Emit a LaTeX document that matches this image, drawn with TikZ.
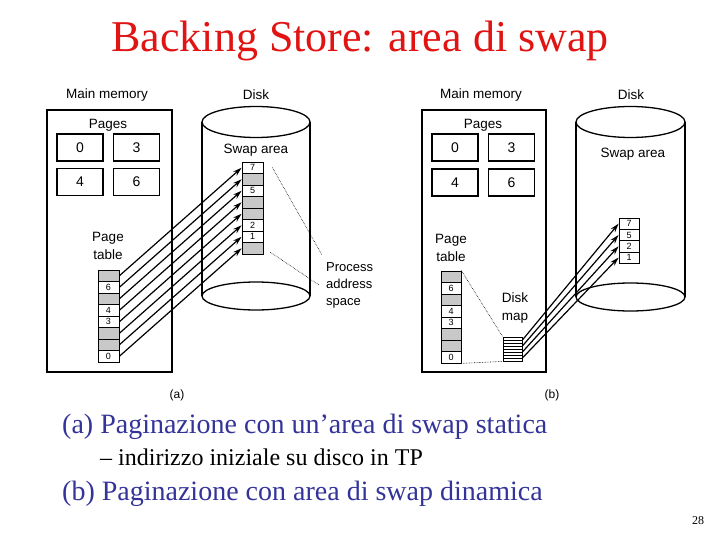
\documentclass[tikz,border=0pt]{standalone}
\usepackage{fontspec}
\setmainfont{Liberation Serif}
\setsansfont{Liberation Sans}
\usepackage{xcolor}
\usepackage{tikz}
\usetikzlibrary{arrows.meta,positioning}

\definecolor{titlered}{RGB}{225,20,20}
\definecolor{slideblue}{RGB}{51,51,153}
\definecolor{cellgray}{RGB}{200,200,200}

\tikzset{
  lbl/.style={font=\sffamily\fontsize{13.5}{16}\selectfont},
  pagebox/.style={draw,line width=1.2pt,minimum width=46pt,minimum height=27pt,inner sep=0pt,font=\sffamily\fontsize{14}{16}\selectfont},
  cell/.style={draw,line width=0.8pt,minimum width=21pt,minimum height=11.5pt,inner sep=0pt,font=\sffamily\fontsize{9}{9}\selectfont},
  emptycell/.style={cell,fill=cellgray},
  maparrow/.style={line width=1.2pt,-{Stealth[length=9pt,width=5.5pt]}},
  frame/.style={line width=1.3pt}
}

\begin{document}
\begin{tikzpicture}[x=1pt,y=-1pt]
\useasboundingbox (0,0) rectangle (720,540);

\node[font=\fontsize{44}{48}\selectfont,text=titlered,anchor=base] (title) at (360,52) {Backing Store: area di swap};

% (a) static swap area
\node[lbl] (mmA) at (107,95) {Main memory};
\draw[frame] (47,110) rectangle (172,372);
\node[lbl] (pagesA) at (108,125) {Pages};
\node[pagebox] (pA0) at (80,147.5) {0};
\node[pagebox] (pA3) at (136.5,147.5) {3};
\node[pagebox] (pA4) at (80,182) {4};
\node[pagebox] (pA6) at (136.5,182) {6};
\node[lbl,align=center] (ptlA) at (108,246) {Page\\[2pt]table};

\node[lbl] (diskA) at (256,95) {Disk};
\draw[frame] (202,122) -- (202,296) (310,122) -- (310,296);
\draw[frame] (256,122) ellipse [x radius=54pt,y radius=15.5pt];
\draw[frame] (256,296) ellipse [x radius=54pt,y radius=14pt];
\node[lbl] (swlA) at (256,150) {Swap area};

\foreach \i/\v in {1/,2/6,3/,4/4,5/3,6/,7/,8/0}
  \node[\ifx\v\empty emptycell\else cell\fi] (ptA\i) at (108.5,264.25+11.5*\i) {\v};
\foreach \i/\v in {1/7,2/,3/5,4/,5/,6/2,7/1,8/}
  \node[\ifx\v\empty emptycell\else cell\fi] (swA\i) at (252.5,156.25+11.5*\i) {\v};
\foreach \i in {1,...,8}
  \draw[maparrow] (ptA\i.east) -- (swA\i.west);

\node[lbl,align=left,anchor=north west,font=\sffamily\fontsize{13}{17}\selectfont,inner sep=0pt] (pasA) at (326,262) {Process\\address\\space};
\coordinate (dotA1) at (322,255);
\coordinate (dotA2) at (319,285);
\draw[densely dotted,line width=0.6pt] ([xshift=9pt,yshift=-6pt]swA1.north east) -- (dotA1);
\draw[densely dotted,line width=0.6pt] ([xshift=7pt,yshift=-4pt]swA8.east) -- (dotA2);
\node[lbl,font=\sffamily\fontsize{12}{14}\selectfont] (capA) at (177,395) {(a)};

% (b) dynamic swap area
\node[lbl] (mmB) at (481,95) {Main memory};
\draw[frame] (422,110) rectangle (546,372);
\node[lbl] (pagesB) at (483,125) {Pages};
\node[pagebox] (pB0) at (455,147.5) {0};
\node[pagebox] (pB3) at (511.5,147.5) {3};
\node[pagebox] (pB4) at (455,182.5) {4};
\node[pagebox] (pB6) at (511.5,182.5) {6};
\node[lbl,align=center] (ptlB) at (451,248) {Page\\[2pt]table};

\foreach \i/\v in {1/,2/6,3/,4/4,5/3,6/,7/,8/0}
  \node[\ifx\v\empty emptycell\else cell\fi,minimum width=20pt] (ptB\i) at (451,265.25+11.5*\i) {\v};

\node[draw,line width=0.8pt,minimum width=19pt,minimum height=24pt,inner sep=0pt] (dmap) at (512.5,349) {};
\foreach \k in {1,...,7}
  \draw[line width=0.5pt] (503,337+3*\k) -- (522,337+3*\k);
\node[lbl,align=center] (dmlB) at (515,308.5) {Disk\\[2pt]map};
\draw[densely dotted,line width=0.6pt] (ptB1.north east) -- (dmap.north west);
\draw[densely dotted,line width=0.6pt] (ptB8.south east) -- (dmap.south west);

\node[lbl] (diskB) at (631,95) {Disk};
\draw[frame] (576,122) -- (576,297) (685,122) -- (685,297);
\draw[frame] (630.5,122) ellipse [x radius=54.5pt,y radius=15.5pt];
\draw[frame] (630.5,297) ellipse [x radius=54.5pt,y radius=14pt];
\node[lbl] (swlB) at (633,154) {Swap area};

\foreach \i/\v in {1/7,2/5,3/2,4/1}
  \node[cell,minimum width=20pt,minimum height=11.3pt] (swB\i) at (629,212.35+11.3*\i) {\v};
\foreach \i/\d in {1/9,2/3,3/-3,4/-9}
  \draw[maparrow] ([yshift=\d pt]dmap.east) -- (swB\i.west);
\node[lbl,font=\sffamily\fontsize{12}{14}\selectfont] (capB) at (552,395) {(b)};

% slide text
\node[anchor=base west,text=slideblue,font=\fontsize{28}{30}\selectfont,inner sep=0pt] (itemA) at (62,433) {(a) Paginazione con un’area di swap statica};
\node[anchor=base west,font=\fontsize{24}{26}\selectfont,inner sep=0pt] (subA) at (100,465) {–\hspace{6pt}indirizzo iniziale su disco in TP};
\node[anchor=base west,text=slideblue,font=\fontsize{28}{30}\selectfont,inner sep=0pt] (itemB) at (62,500) {(b) Paginazione con area di swap dinamica};
\node[anchor=base,font=\fontsize{12}{14}\selectfont,inner sep=0pt] (pnum) at (698,524) {28};
\end{tikzpicture}
\end{document}
